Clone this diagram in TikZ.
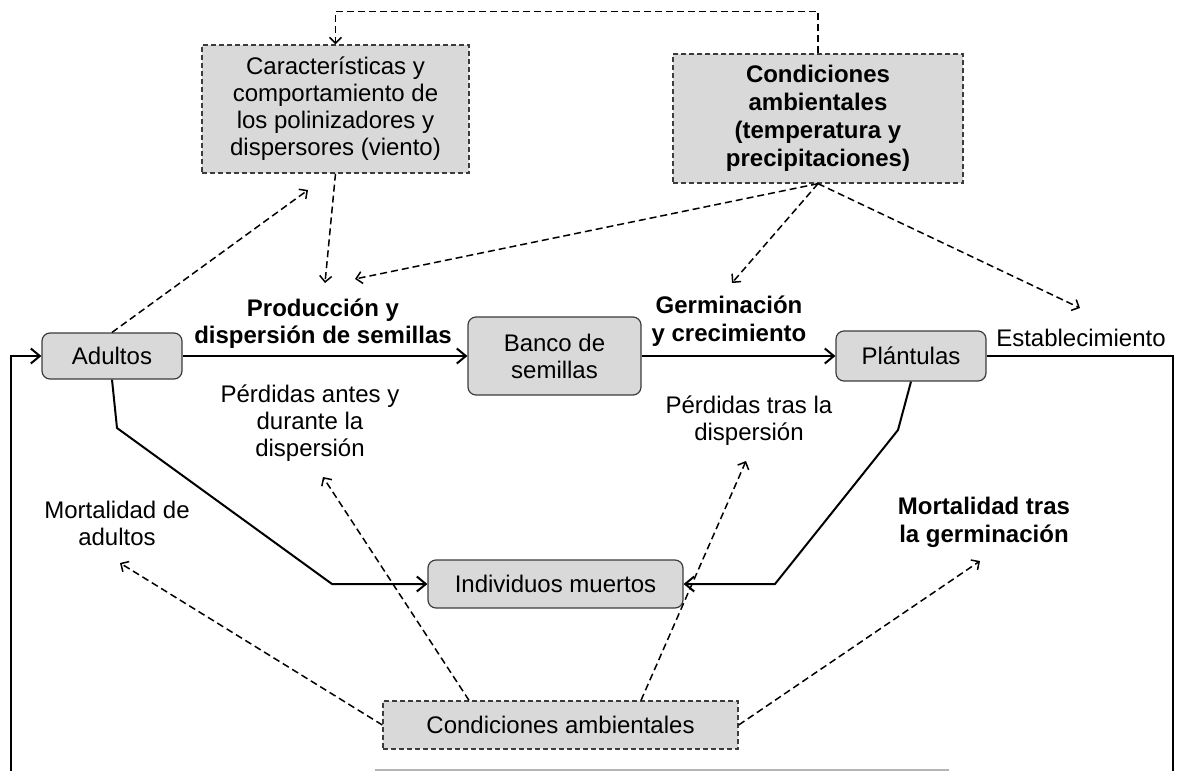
\documentclass[tikz,border=0pt]{standalone}
\usepackage{fontspec}
\setmainfont{Liberation Sans}
\usetikzlibrary{arrows.meta}
\definecolor{boxfill}{HTML}{D9D9D9}
\definecolor{boxline}{HTML}{3C3C3C}
\definecolor{scanline}{HTML}{B4B4B4}

\begin{document}
\begin{tikzpicture}[x=1pt, y=-1pt,
  font=\fontsize{24}{27}\selectfont,
  stage/.style={draw=boxline, fill=boxfill, rounded corners=8pt, line width=1.2pt, align=center, inner sep=0pt},
  factor/.style={draw=boxline, fill=boxfill, dash pattern=on 5pt off 3pt, line width=1.3pt, align=center, inner sep=0pt},
  lbl/.style={align=center, inner sep=0pt},
  flow/.style={draw=black, line width=2pt, -{Straight Barb[length=9pt,width=15pt]}},
  infl/.style={draw=black, line width=1.5pt, dash pattern=on 7pt off 4pt, -{Straight Barb[length=6pt,width=12pt]}}]
\useasboundingbox (0,0) rectangle (1178,771);
\clip (0,0) rectangle (1178,771);

% life cycle stages
\node[stage, minimum width=140pt, minimum height=46pt] (adult) at (112,356) {Adultos};
\node[stage, minimum width=173pt, minimum height=78pt] (bank) at (554.5,356) {Banco de\\semillas};
\node[stage, minimum width=150pt, minimum height=50pt] (plant) at (911,356) {Pl\'antulas};
\node[stage, minimum width=255pt, minimum height=48pt] (dead) at (555.5,584) {Individuos muertos};

% external factors
\node[factor, minimum width=267pt, minimum height=128pt] (pollin) at (335.5,109) {Caracter\'isticas y\\comportamiento de\\los polinizadores y\\dispersores (viento)};
\node[factor, minimum width=290pt, minimum height=129pt, font=\fontsize{24}{28}\selectfont\bfseries] (climate) at (818,118.5) {Condiciones\\ambientales\\(temperatura y\\precipitaciones)};
\node[factor, minimum width=355pt, minimum height=48pt] (cond) at (560.5,725) {Condiciones ambientales};

% process labels
\node[lbl, font=\fontsize{24}{27}\selectfont\bfseries] (prod) at (323,324) {Producci\'on y\\dispersi\'on de semillas};
\node[lbl, font=\fontsize{24}{28}\selectfont\bfseries] (germ) at (729,321) {Germinaci\'on\\y crecimiento};
\node[lbl] (estab) at (1081,338) {Establecimiento};
\node[lbl] (lossA) at (310,423) {P\'erdidas antes y\\durante la\\dispersi\'on};
\node[lbl] (lossB) at (749,421) {P\'erdidas tras la\\dispersi\'on};
\node[lbl] (mortA) at (117,523) {Mortalidad de\\adultos};
\node[lbl, font=\fontsize{24}{28}\selectfont\bfseries] (mortG) at (984,522) {Mortalidad tras\\la germinaci\'on};

% free ends and bends
\coordinate (tPollin) at (308,190);
\coordinate (tProdA) at (325,283);
\coordinate (tProdB) at (355,279);
\coordinate (tGerm) at (732,283);
\coordinate (tEstab) at (1080,308);
\coordinate (tLossA) at (323,477);
\coordinate (tLossB) at (746,461);
\coordinate (tMortA) at (120,563);
\coordinate (tMortG) at (980,561);
\coordinate (a1) at (117,428);
\coordinate (a2) at (332,584);
\coordinate (p1) at (898,430);
\coordinate (p2) at (775,584);
\coordinate (loopR) at (1173,800);
\coordinate (loopL) at (11,800);

% main cycle
\draw[flow] (adult) -- (bank);
\draw[flow] (bank) -- (plant);
\draw[flow] (plant.east) -| (loopR) -- (loopL) |- (adult.west);
\draw[flow] (adult.south) -- (a1) -- (a2) -- (dead.west);
\draw[flow] (plant.south) -- (p1) -- (p2) -- (dead.east);

% influences
\draw[infl] (climate.north) -- ++(0,-42) -| (pollin.north);
\draw[infl] (adult.north) -- (tPollin);
\draw[infl] (pollin.south) -- (tProdA);
\draw[infl] (climate.south) -- (tProdB);
\draw[infl] (climate.south) -- (tGerm);
\draw[infl] (climate.south) -- (tEstab);
\draw[infl] (cond.west) -- (tMortA);
\draw[infl] ([xshift=-91.5pt]cond.north) -- (tLossA);
\draw[infl] ([xshift=80.5pt]cond.north) -- (tLossB);
\draw[infl] (cond.east) -- (tMortG);

\draw[scanline, line width=1.5pt] (375,770) -- (949,770);
\end{tikzpicture}
\end{document}
